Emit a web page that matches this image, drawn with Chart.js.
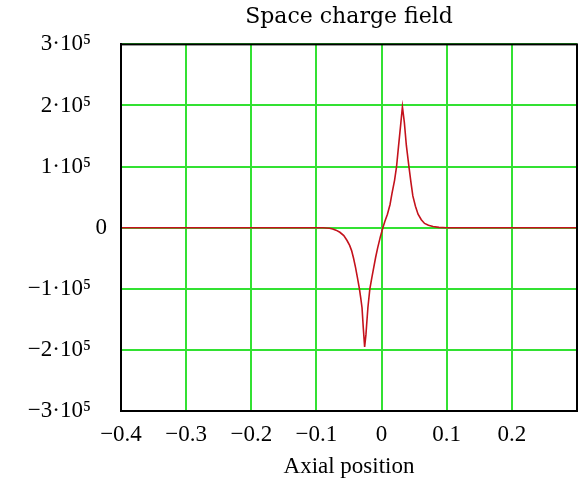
<!DOCTYPE html>
<html>
<head>
<meta charset="utf-8">
<script src="https://cdn.jsdelivr.net/npm/chart.js@4.4.0/dist/chart.umd.min.js"></script>
<style>
  html, body { margin: 0; padding: 0; background: #fff; }
  #wrap { width: 584px; height: 482px; }
</style>
</head>
<body>
<div id="wrap"><canvas id="grafic" width="584" height="482"></canvas></div>
<script>
/* Space charge field — camp axial */

// posició axial (m)
const posicions = [
  -0.4, -0.09, -0.08, -0.075, -0.07, -0.064, -0.058, -0.053, -0.049, -0.046,
  -0.043, -0.040, -0.037, -0.034, -0.032, -0.030, -0.028, -0.026, -0.024, -0.023,
  -0.021, -0.018, -0.015, -0.012, -0.009, -0.006, -0.002, 0.002, 0.005, 0.009,
  0.013, 0.016, 0.020, 0.023, 0.026, 0.029, 0.032, 0.035, 0.038, 0.042,
  0.045, 0.048, 0.052, 0.056, 0.061, 0.066, 0.072, 0.079, 0.088, 0.1,
  0.3
];
// camp de càrrega espacial
const camp = [
  0, 0, -1000, -2000, -4000, -7500, -13000, -21000, -29000, -37500,
  -50000, -65000, -82000, -100000, -115000, -131000, -165000, -195000, -175000, -160000,
  -131000, -100000, -82000, -65000, -48000, -33000, -15500, 0, 10000, 22000,
  38000, 56000, 78000, 100000, 133000, 165000, 198000, 172000, 135000, 100000,
  75000, 52000, 35000, 22000, 13000, 7000, 4000, 2000, 500, 0,
  0
];

const ticksX = ['−0.4', '−0.3', '−0.2', '−0.1', '0', '0.1', '0.2', ''];
const ticksY = ['−3·10⁵', '−2·10⁵', '−1·10⁵', '0', '1·10⁵', '2·10⁵', '3·10⁵'];

const VERD = 'rgb(50,225,50)';
const FONT_TXT = "'Liberation Serif', 'Times New Roman', serif";

const punts = posicions.map((x, i) => ({ x, y: camp[i] }));

// marc negre al voltant de l'àrea del gràfic
const marc = {
  id: 'marc',
  afterDraw(chart) {
    const { ctx, chartArea: a } = chart;
    ctx.save();
    ctx.strokeStyle = '#000';
    ctx.lineWidth = 2;
    ctx.strokeRect(a.left, a.top, a.right - a.left, a.bottom - a.top);
    ctx.restore();
  }
};

new Chart(document.getElementById('grafic').getContext('2d'), {
  type: 'line',
  data: {
    datasets: [{
      data: punts,
      borderColor: '#c4121c',
      borderWidth: 1.6,
      pointRadius: 0,
      tension: 0,
      fill: false,
    }]
  },
  options: {
    responsive: false,
    animation: false,
    devicePixelRatio: 1,
    layout: { padding: { left: 0, right: 7, top: 0, bottom: 0 } },
    plugins: {
      legend: { display: false },
      tooltip: { enabled: false },
      title: {
        display: true,
        text: 'Space charge field',
        fullSize: false,
        color: '#000',
        font: { family: "'DejaVu Serif', serif", size: 22, weight: 'normal', lineHeight: 1.2 },
        padding: { top: 4, bottom: 14 }
      }
    },
    scales: {
      x: {
        type: 'linear',
        min: -0.4,
        max: 0.3,
        afterFit(s) {
          s.height = 71;
          s.paddingLeft = 0;
          s.paddingRight = 0;
        },
        afterBuildTicks(s) {
          s.ticks = ticksX.map((_, i) => ({ value: Math.round((-0.4 + i * 0.1) * 10) / 10 }));
        },
        ticks: {
          autoSkip: false,
          maxRotation: 0,
          padding: 10,
          color: '#000',
          font: { family: FONT_TXT, size: 23 },
          callback: (v, i) => ticksX[i]
        },
        grid: { color: VERD, lineWidth: 2, drawTicks: false },
        border: { color: '#000', width: 2 },
        title: {
          display: true,
          text: 'Axial position',
          color: '#000',
          font: { family: FONT_TXT, size: 23 },
          padding: { top: 0, bottom: 1 }
        }
      },
      y: {
        type: 'linear',
        min: -300000,
        max: 300000,
        afterFit(s) { s.width = 121; },
        afterBuildTicks(s) {
          s.ticks = ticksY.map((_, i) => ({ value: -300000 + i * 100000 }));
        },
        ticks: {
          autoSkip: false,
          padding: 14,
          color: '#000',
          font: { family: FONT_TXT, size: 23 },
          // l'exponent deixa espai a la dreta com a l'original
          callback: (v, i) => ticksY[i] === '0' ? '0' : ticksY[i] + '\u2002\u2009'
        },
        grid: { color: VERD, lineWidth: 2, drawTicks: false },
        border: { color: '#000', width: 2 }
      }
    }
  },
  plugins: [marc]
});
</script>
</body>
</html>
